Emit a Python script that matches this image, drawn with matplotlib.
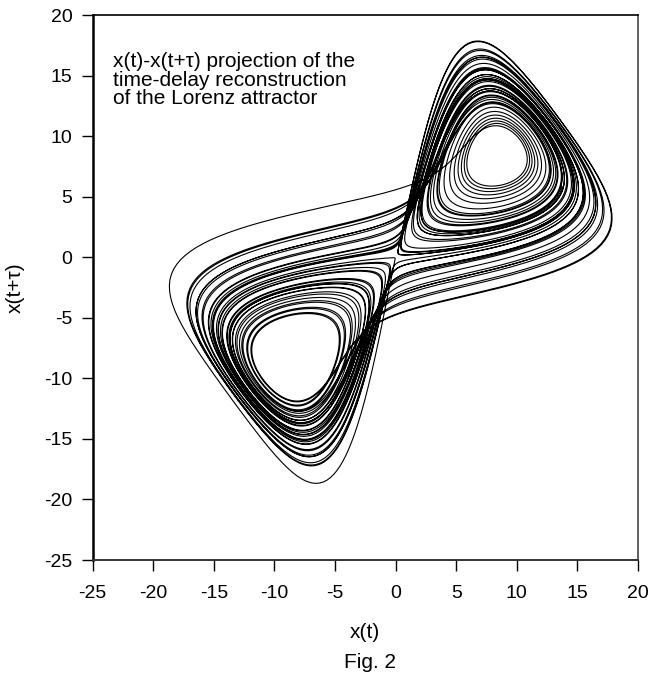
import numpy as np
import matplotlib
matplotlib.use('Agg')
import matplotlib.pyplot as plt

# Lorenz system settings (the chart is a delay plot of its x component)
sigma = 10.0
rho = 28.0
beta = 8.0 / 3.0
dt = 0.005
tau = 0.15
t_skip = 20.0
t_run = 60.0
x0 = [1.0, 1.0, 1.0]

x_ticks = [-25, -20, -15, -10, -5, 0, 5, 10, 15, 20]
y_ticks = [-25, -20, -15, -10, -5, 0, 5, 10, 15, 20]
note = 'x(t)-x(t+\u03c4) projection of the\ntime-delay reconstruction\nof the Lorenz attractor'


def deriv(s):
    x, y, z = s
    return np.array([sigma * (y - x), x * (rho - z) - y, x * y - beta * z])


def rk4(s, h):
    k1 = deriv(s)
    k2 = deriv(s + h / 2 * k1)
    k3 = deriv(s + h / 2 * k2)
    k4 = deriv(s + h * k3)
    return s + h / 6 * (k1 + 2 * k2 + 2 * k3 + k4)


n_skip = int(t_skip / dt)
n_run = int(t_run / dt)
lag = int(round(tau / dt))

s = np.array(x0)
for i in range(n_skip):
    s = rk4(s, dt)

xs = np.empty(n_run)
for i in range(n_run):
    s = rk4(s, dt)
    xs[i] = s[0]

xt = xs[:-lag]
xtau = xs[lag:]

plt.rcParams['font.family'] = ['Liberation Sans', 'DejaVu Sans']
plt.rcParams['axes.unicode_minus'] = False

fig = plt.figure(figsize=(6.49, 6.77), dpi=100)
ax = fig.add_axes([0.1428, 0.1728, 0.8403, 0.805])

ax.plot(xt, xtau, color='black', linewidth=0.8)

ax.set_xlim(-25, 20)
ax.set_ylim(-25, 20)
ax.set_xticks(x_ticks)
ax.set_yticks(y_ticks)
ax.tick_params(direction='out', length=7.7, width=1, labelsize=14)
ax.tick_params(axis='x', pad=10)
ax.tick_params(axis='y', pad=7)
ax.spines['top'].set_linewidth(1.2)
ax.spines['right'].set_linewidth(1.2)
ax.spines['right'].set_color('#444444')
ax.spines['left'].set_linewidth(1.8)
ax.spines['bottom'].set_linewidth(1.4)
ax.spines['bottom'].set_color('#333333')

ax.text(-23.3, 14.6, note, fontsize=15, va='center', ha='left', linespacing=0.97)

fig.text(365 / 649, 1 - 633 / 677, 'x(t)', fontsize=15, ha='center', va='center')
fig.text(15 / 649, 1 - 288 / 677, 'x(t+\u03c4)', fontsize=15, ha='center', va='center', rotation=90)
fig.text(370 / 649, 1 - 662 / 677, 'Fig. 2', fontsize=15, ha='center', va='center')

fig.savefig('out.png', dpi=100)
